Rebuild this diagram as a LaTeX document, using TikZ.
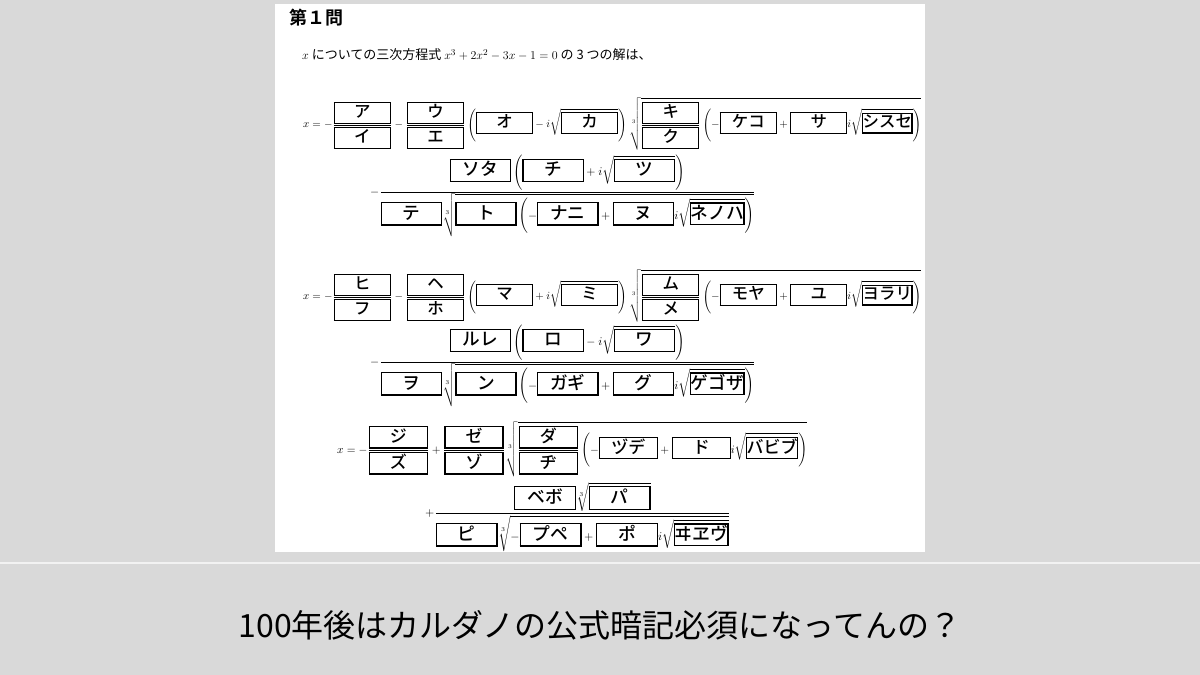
\documentclass[tikz,border=0pt]{standalone}
\usepackage{amsmath}
\usepackage{fontspec}
\newfontfamily\cjk{Noto Sans CJK JP}
\newfontfamily\cjkb{Noto Sans CJK JP Bold}
\newfontfamily\cjkm{Noto Sans CJK JP Medium}
\newcommand\bx[1]{{\setlength\fboxsep{0pt}\setlength\fboxrule{1.1pt}\fbox{\makebox[50pt]{\rule[-4.5pt]{0pt}{18pt}\cjkm\fontsize{15}{15}\selectfont #1}}}}
\newcommand\bxs[1]{{\setlength\fboxsep{0pt}\setlength\fboxrule{1.1pt}\fbox{\makebox[44pt]{\rule[-4pt]{0pt}{17pt}\cjkm\fontsize{15}{15}\selectfont #1}}}}
\tikzset{eq/.style={anchor=west,inner sep=0pt}}
\begin{document}
\begin{tikzpicture}[x=1pt,y=-1pt]
\useasboundingbox (0,0) rectangle (1200,675);
\fill[gray!30] (0,0) rectangle (1200,675);
\fill[white] (275,4) rectangle (925,552);
\draw[white!90!gray,line width=1.2pt] (0,563) -- (1200,563);
\node[anchor=north west,inner sep=0pt,font=\cjkb\fontsize{18}{18}\selectfont] (title) at (289,9) {第１問};
\node[anchor=west,inner sep=0pt,font=\cjk\fontsize{13}{13}\selectfont] (q) at (302,55) {$x$ についての三次方程式 $x^3+2x^2-3x-1=0$ の 3 つの解は、};
\node[eq] (e1a) at (303,124) {\resizebox{618pt}{!}{$\displaystyle x=-\frac{\bx{ア}}{\bx{イ}}-\frac{\bx{ウ}}{\bx{エ}}\left(\bx{オ}-i\sqrt{\bx{カ}}\right)\sqrt[3]{\frac{\bx{キ}}{\bx{ク}}\left(-\bx{ケコ}+\bx{サ}i\sqrt{\bxs{シスセ}}\right)}$}};
\node[eq] (e1b) at (370,196) {\resizebox{385pt}{!}{$\displaystyle -\frac{\bx{ソタ}\left(\bx{チ}+i\sqrt{\bx{ツ}}\right)}{\bx{テ}\sqrt[3]{\bx{ト}\left(-\bx{ナニ}+\bx{ヌ}i\sqrt{\bxs{ネノハ}}\right)}}$}};
\node[eq] (e2a) at (303,296) {\resizebox{618pt}{!}{$\displaystyle x=-\frac{\bx{ヒ}}{\bx{フ}}-\frac{\bx{ヘ}}{\bx{ホ}}\left(\bx{マ}+i\sqrt{\bx{ミ}}\right)\sqrt[3]{\frac{\bx{ム}}{\bx{メ}}\left(-\bx{モヤ}+\bx{ユ}i\sqrt{\bxs{ヨラリ}}\right)}$}};
\node[eq] (e2b) at (370,366) {\resizebox{385pt}{!}{$\displaystyle -\frac{\bx{ルレ}\left(\bx{ロ}-i\sqrt{\bx{ワ}}\right)}{\bx{ヲ}\sqrt[3]{\bx{ン}\left(-\bx{ガギ}+\bx{グ}i\sqrt{\bxs{ゲゴザ}}\right)}}$}};
\node[eq] (e3a) at (337,449) {\resizebox{470pt}{!}{$\displaystyle x=-\frac{\bx{ジ}}{\bx{ズ}}+\frac{\bx{ゼ}}{\bx{ゾ}}\sqrt[3]{\frac{\bx{ダ}}{\bx{ヂ}}\left(-\bx{ヅデ}+\bx{ド}i\sqrt{\bxs{バビブ}}\right)}$}};
\node[eq] (e3b) at (425,517) {\resizebox{305pt}{!}{$\displaystyle +\frac{\bx{ベボ}\sqrt[3]{\bx{パ}}}{\bx{ピ}\sqrt[3]{-\bx{プペ}+\bx{ポ}i\sqrt{\bxs{ヰヱヴ}}}}$}};
\node[inner sep=0pt,font=\cjk\fontsize{32}{32}\selectfont] (cap) at (600,625) {100年後はカルダノの公式暗記必須になってんの？};
\end{tikzpicture}
\end{document}
